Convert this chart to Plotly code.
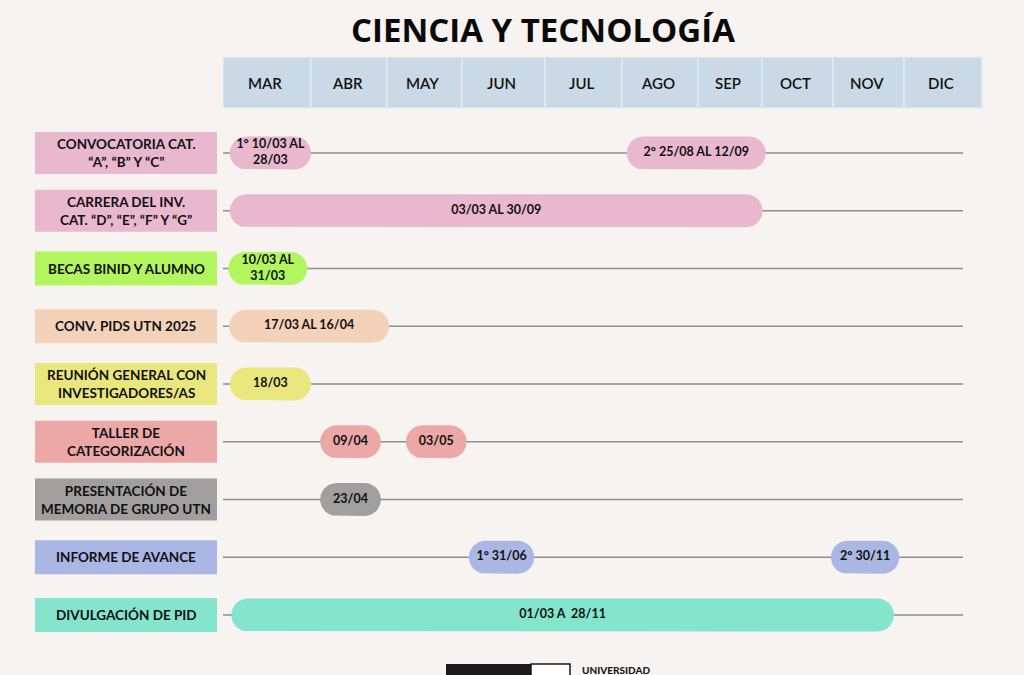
import numpy as np
import plotly.graph_objects as go

# ---------------- data ----------------
title = "CIENCIA Y TECNOLOGÍA"
months = ["MAR", "ABR", "MAY", "JUN", "JUL", "AGO", "SEP", "OCT", "NOV", "DIC"]

activities = [
    "CONVOCATORIA CAT.<br>“A”, “B” Y “C”",
    "CARRERA DEL INV.<br>CAT. “D”, “E”, “F” Y “G”",
    "BECAS BINID Y ALUMNO",
    "CONV. PIDS UTN 2025",
    "REUNIÓN GENERAL CON<br>INVESTIGADORES/AS",
    "TALLER DE<br>CATEGORIZACIÓN",
    "PRESENTACIÓN DE<br>MEMORIA DE GRUPO UTN",
    "INFORME DE AVANCE",
    "DIVULGACIÓN DE PID",
]
activity_colors = ["#E9B7CE", "#E9B7CE", "#B3F55F", "#F3D2B9", "#E9E67D",
                   "#EBA8A7", "#A09F9D", "#AAB6E3", "#84E4CC"]

# events: row of activity, start / end on the timeline (month units from 1 March)
event_row = [0, 0, 1, 2, 3, 4, 5, 5, 6, 7, 7, 8]
event_start = [0.09, 5.32, 0.09, 0.07, 0.08, 0.09, 1.28, 2.41, 1.28, 3.24, 8.01, 0.11]
event_end = [1.16, 7.15, 7.11, 1.11, 2.19, 1.16, 2.08, 3.21, 2.08, 4.10, 8.91, 8.84]
event_label = ["1° 10/03 AL<br>28/03", "2° 25/08 AL 12/09", "03/03 AL 30/09",
               "10/03 AL<br>31/03", "17/03 AL 16/04", "18/03", "09/04", "03/05",
               "23/04", "1° 31/06", "2° 30/11", "01/03 A\u00a0 28/11"]

# ---------------- layout constants ----------------
W, H = 1024, 675
BG = "#F7F3F0"
X_LEFT, X_RIGHT = 223, 982          # pixel extent of month header / timeline axis
HEADER_EDGES_PX = [223, 311, 387, 462, 545, 622, 698, 762, 833, 904, 982]
PX_PER_MONTH = (X_RIGHT - X_LEFT) / len(months)
ROW0_PX, ROW_STEP = 153, 57.75       # pixel y of first row, row spacing
PILL_R = 16.5                        # pill radius in px
LINE_END = 9.75                      # timeline end (month units)

y_top = -ROW0_PX / ROW_STEP
y_bot = (len(activities) - 1) + (H - (ROW0_PX + (len(activities) - 1) * ROW_STEP)) / ROW_STEP

fig = go.Figure()

# pills
rx = PILL_R / PX_PER_MONTH
ry = PILL_R / ROW_STEP
for r, s, e in zip(event_row, event_start, event_end):
    col = activity_colors[r]
    a1 = np.linspace(-np.pi / 2, np.pi / 2, 25)
    a2 = np.linspace(np.pi / 2, 3 * np.pi / 2, 25)
    xs = np.concatenate([(e - rx) + rx * np.cos(a1), (s + rx) + rx * np.cos(a2)])
    ys = np.concatenate([r + ry * np.sin(a1), r + ry * np.sin(a2)])
    xs = np.append(xs, xs[0]); ys = np.append(ys, ys[0])
    fig.add_trace(go.Scatter(x=xs, y=ys, mode="lines", fill="toself", fillcolor=col,
                             line=dict(width=0, color=col), hoverinfo="skip",
                             showlegend=False))

fig.add_trace(go.Scatter(
    x=[(s + e) / 2 for s, e in zip(event_start, event_end)],
    y=event_row, text=event_label, mode="text",
    textfont=dict(family="Lato", size=12.5, color="#111111", weight=700),
    hoverinfo="skip", showlegend=False))

shapes = []
annotations = []

# timeline lines
for i in range(len(activities)):
    shapes.append(dict(type="line", xref="x", yref="y", x0=-0.01, x1=LINE_END, y0=i, y1=i,
                       line=dict(color="#8E8E8E", width=1.6), layer="below"))

# month header
hy0 = 1 - 108 / H
hy1 = 1 - 57 / H
for i, m in enumerate(months):
    x0 = HEADER_EDGES_PX[i] / W
    x1 = HEADER_EDGES_PX[i + 1] / W
    shapes.append(dict(type="rect", xref="paper", yref="paper", x0=x0, x1=x1, y0=hy0, y1=hy1,
                       fillcolor="#C9DAE6", line=dict(color="#E6EDF2", width=1.2)))
    annotations.append(dict(x=(x0 + x1) / 2 - 2 / W, y=(hy0 + hy1) / 2, xref="paper",
                            yref="paper", text=m, xanchor="center", yanchor="middle",
                            showarrow=False,
                            font=dict(family="Lato", size=15, color="#111111", weight=600)))

# left activity boxes
for i, (name, col) in enumerate(zip(activities, activity_colors)):
    h_px = 42 if "<br>" in name else 34
    hh = h_px / 2 / ROW_STEP
    shapes.append(dict(type="rect", xref="paper", yref="y", x0=35 / W, x1=217 / W,
                       y0=i - hh, y1=i + hh, fillcolor=col, line=dict(width=0)))
    annotations.append(dict(x=126 / W, y=i, xref="paper", yref="y", text=name, showarrow=False,
                            xanchor="center", yanchor="middle",
                            font=dict(family="Lato", size=13.5, color="#111111", weight=700)))

# title
annotations.append(dict(x=543 / W, y=1 - 30 / H, xref="paper", yref="paper", text=title,
                        xanchor="center", yanchor="middle", showarrow=False,
                        font=dict(family="Open Sans", size=33, color="#0A0A0A", weight=700)))

# bottom logo (partially visible)
shapes.append(dict(type="rect", xref="paper", yref="paper", x0=446 / W, x1=531 / W,
                   y0=-0.02, y1=1 - 664 / H, fillcolor="#1A1A1A", line=dict(width=0)))
shapes.append(dict(type="rect", xref="paper", yref="paper", x0=531 / W, x1=570 / W,
                   y0=-0.02, y1=1 - 664 / H, fillcolor="#FFFFFF",
                   line=dict(color="#1A1A1A", width=1.5)))
annotations.append(dict(x=580 / W, y=1 - 670 / H, xref="paper", yref="paper", text="UNIVERSIDAD",
                        xanchor="left", yanchor="middle", showarrow=False,
                        font=dict(family="Lato", size=10, color="#1A1A1A", weight=900)))

fig.update_layout(
    width=W, height=H, margin=dict(l=0, r=0, t=0, b=0),
    paper_bgcolor=BG, plot_bgcolor=BG,
    xaxis=dict(domain=[X_LEFT / W, X_RIGHT / W], range=[0, len(months)], visible=False,
               fixedrange=True),
    yaxis=dict(domain=[0, 1], range=[y_bot, y_top], visible=False, fixedrange=True),
    shapes=shapes, annotations=annotations, showlegend=False,
)

fig.write_html("out.html", include_plotlyjs=True, config={"displayModeBar": False},
               post_script="document.body.style.margin='0';document.body.style.overflow='hidden';")
